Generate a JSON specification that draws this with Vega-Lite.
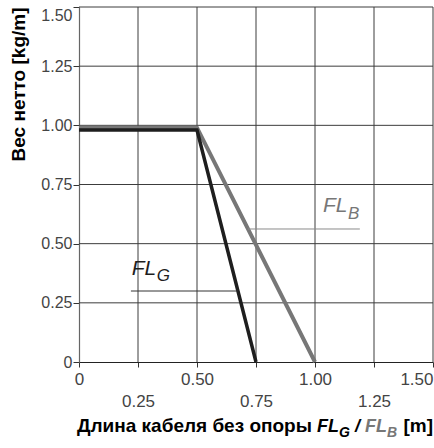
{
  "$schema": "https://vega.github.io/schema/vega-lite/v6.json",
  "width": 354,
  "height": 355,
  "autosize": {"type": "none"},
  "padding": {"left": 79, "top": 7, "right": 1, "bottom": 86},
  "background": "white",
  "config": {
    "view": {"stroke": null},
    "font": "Liberation Sans"
  },
  "layer": [
    {
      "data": {"values": [{"x": 0, "y": 0.99}, {"x": 0.5, "y": 0.99}, {"x": 1.0, "y": 0}]},
      "mark": {"type": "line", "color": "#777777", "strokeWidth": 4, "opacity": 0},
      "encoding": {
        "x": {
          "field": "x", "type": "quantitative",
          "scale": {"domain": [0, 1.5], "nice": false, "zero": false},
          "axis": {
            "title": null,
            "values": [0, 0.25, 0.5, 0.75, 1.0, 1.25, 1.5],
            "format": ".2f",
            "labelExpr": "datum.value == 0 ? '0' : datum.label",
            "grid": false,
            "domainColor": "#222222", "domainWidth": 1.2,
            "tickColor": "#333333", "tickSize": 5, "tickWidth": 1,
            "labelFont": "Liberation Sans", "labelFontSize": 17, "labelColor": "#444444",
            "labelFlush": false, "labelOverlap": false,
            "labelPadding": {"condition": {"test": "(datum.value * 4) % 2 < 0.5", "value": 4}, "value": 26},
            "labelAlign": {"condition": {"test": "datum.value >= 1.49", "value": "right"}, "value": "center"}
          }
        },
        "y": {
          "field": "y", "type": "quantitative",
          "scale": {"domain": [0, 1.5], "nice": false, "zero": false},
          "axis": {
            "title": "Вес нетто [kg/m]",
            "titleFont": "Liberation Sans", "titleFontSize": 19, "titleFontWeight": "bold", "titleColor": "#000000",
            "titleAnchor": "end", "titlePadding": 12,
            "values": [0, 0.25, 0.5, 0.75, 1.0, 1.25, 1.5],
            "format": ".2f",
            "labelExpr": "datum.value == 0 ? '0' : datum.label",
            "grid": false,
            "domainColor": "#666666", "domainWidth": 1.2,
            "tickColor": "#333333", "tickSize": 6, "tickWidth": 1,
            "labelFont": "Liberation Sans", "labelFontSize": 16, "labelColor": "#444444",
            "labelFlush": false, "labelOverlap": false, "labelPadding": 1,
            "labelBaseline": {"condition": {"test": "datum.value >= 1.49", "value": "top"}, "value": "middle"}
          }
        }
      }
    },
    {
      "data": {"values": [{"g": 0.25}, {"g": 0.5}, {"g": 0.75}, {"g": 1.0}, {"g": 1.25}, {"g": 1.5}]},
      "mark": {"type": "rule", "color": "#3c3c3c", "strokeWidth": 1},
      "encoding": {"x": {"field": "g", "type": "quantitative"}}
    },
    {
      "data": {"values": [{"g": 0.25}, {"g": 0.5}, {"g": 0.75}, {"g": 1.0}, {"g": 1.25}, {"g": 1.5}]},
      "mark": {"type": "rule", "color": "#3c3c3c", "strokeWidth": 1},
      "encoding": {"y": {"field": "g", "type": "quantitative"}}
    },
    {
      "data": {"values": [{"x": 0, "y": 0.99}, {"x": 0.5, "y": 0.99}, {"x": 1.0, "y": 0}]},
      "mark": {"type": "line", "color": "#777777", "strokeWidth": 4},
      "encoding": {"x": {"field": "x", "type": "quantitative"}, "y": {"field": "y", "type": "quantitative"}}
    },
    {
      "data": {"values": [{"x": 0, "y": 0.98}, {"x": 0.5, "y": 0.98}, {"x": 0.75, "y": 0}]},
      "mark": {"type": "line", "color": "#1e1e1e", "strokeWidth": 3.5},
      "encoding": {"x": {"field": "x", "type": "quantitative"}, "y": {"field": "y", "type": "quantitative"}}
    },
    {
      "data": {"values": [{"x": 0.22, "x2": 0.673, "y": 0.30}]},
      "mark": {"type": "rule", "color": "#333333", "strokeWidth": 1},
      "encoding": {"x": {"field": "x", "type": "quantitative"}, "x2": {"field": "x2"}, "y": {"field": "y", "type": "quantitative"}}
    },
    {
      "data": {"values": [{"x": 0.716, "x2": 1.19, "y": 0.562}]},
      "mark": {"type": "rule", "color": "#8a8a8a", "strokeWidth": 1},
      "encoding": {"x": {"field": "x", "type": "quantitative"}, "x2": {"field": "x2"}, "y": {"field": "y", "type": "quantitative"}}
    },
    {
      "data": {"values": [{"x": 0.223, "y": 0.368, "t": "FL"}]},
      "mark": {"type": "text", "align": "left", "baseline": "alphabetic", "fontSize": 21, "fontStyle": "italic", "color": "#1e1e1e", "font": "Liberation Sans"},
      "encoding": {"x": {"field": "x", "type": "quantitative"}, "y": {"field": "y", "type": "quantitative"}, "text": {"field": "t"}}
    },
    {
      "data": {"values": [{"x": 0.329, "y": 0.342, "t": "G"}]},
      "mark": {"type": "text", "align": "left", "baseline": "alphabetic", "fontSize": 17, "fontStyle": "italic", "color": "#1e1e1e", "font": "Liberation Sans"},
      "encoding": {"x": {"field": "x", "type": "quantitative"}, "y": {"field": "y", "type": "quantitative"}, "text": {"field": "t"}}
    },
    {
      "data": {"values": [{"x": 1.034, "y": 0.634, "t": "FL"}]},
      "mark": {"type": "text", "align": "left", "baseline": "alphabetic", "fontSize": 21, "fontStyle": "italic", "color": "#777777", "font": "Liberation Sans"},
      "encoding": {"x": {"field": "x", "type": "quantitative"}, "y": {"field": "y", "type": "quantitative"}, "text": {"field": "t"}}
    },
    {
      "data": {"values": [{"x": 1.14, "y": 0.604, "t": "B"}]},
      "mark": {"type": "text", "align": "left", "baseline": "alphabetic", "fontSize": 17, "fontStyle": "italic", "color": "#777777", "font": "Liberation Sans"},
      "encoding": {"x": {"field": "x", "type": "quantitative"}, "y": {"field": "y", "type": "quantitative"}, "text": {"field": "t"}}
    },
    {
      "data": {"values": [{"x": 0.987, "y": -0.296, "t": "Длина кабеля без опоры"}, {"x": 1.5, "y": -0.296, "t": "[m]"}]},
      "mark": {"type": "text", "align": "right", "baseline": "alphabetic", "fontSize": 19, "fontWeight": "bold", "color": "#000000", "font": "Liberation Sans"},
      "encoding": {"x": {"field": "x", "type": "quantitative"}, "y": {"field": "y", "type": "quantitative"}, "text": {"field": "t"}}
    },
    {
      "data": {"values": [{"x": 1.008, "y": -0.296, "t": "FL"}, {"x": 1.169, "y": -0.296, "t": "/"}]},
      "mark": {"type": "text", "align": "left", "baseline": "alphabetic", "fontSize": 18, "fontWeight": "bold", "fontStyle": "italic", "color": "#000000", "font": "Liberation Sans"},
      "encoding": {"x": {"field": "x", "type": "quantitative"}, "y": {"field": "y", "type": "quantitative"}, "text": {"field": "t"}}
    },
    {
      "data": {"values": [{"x": 1.102, "y": -0.317, "t": "G"}]},
      "mark": {"type": "text", "align": "left", "baseline": "alphabetic", "fontSize": 14, "fontWeight": "bold", "fontStyle": "italic", "color": "#000000", "font": "Liberation Sans"},
      "encoding": {"x": {"field": "x", "type": "quantitative"}, "y": {"field": "y", "type": "quantitative"}, "text": {"field": "t"}}
    },
    {
      "data": {"values": [{"x": 1.212, "y": -0.296, "t": "FL"}]},
      "mark": {"type": "text", "align": "left", "baseline": "alphabetic", "fontSize": 18, "fontWeight": "bold", "fontStyle": "italic", "color": "#777777", "font": "Liberation Sans"},
      "encoding": {"x": {"field": "x", "type": "quantitative"}, "y": {"field": "y", "type": "quantitative"}, "text": {"field": "t"}}
    },
    {
      "data": {"values": [{"x": 1.305, "y": -0.317, "t": "B"}]},
      "mark": {"type": "text", "align": "left", "baseline": "alphabetic", "fontSize": 14, "fontWeight": "bold", "fontStyle": "italic", "color": "#777777", "font": "Liberation Sans"},
      "encoding": {"x": {"field": "x", "type": "quantitative"}, "y": {"field": "y", "type": "quantitative"}, "text": {"field": "t"}}
    }
  ]
}
